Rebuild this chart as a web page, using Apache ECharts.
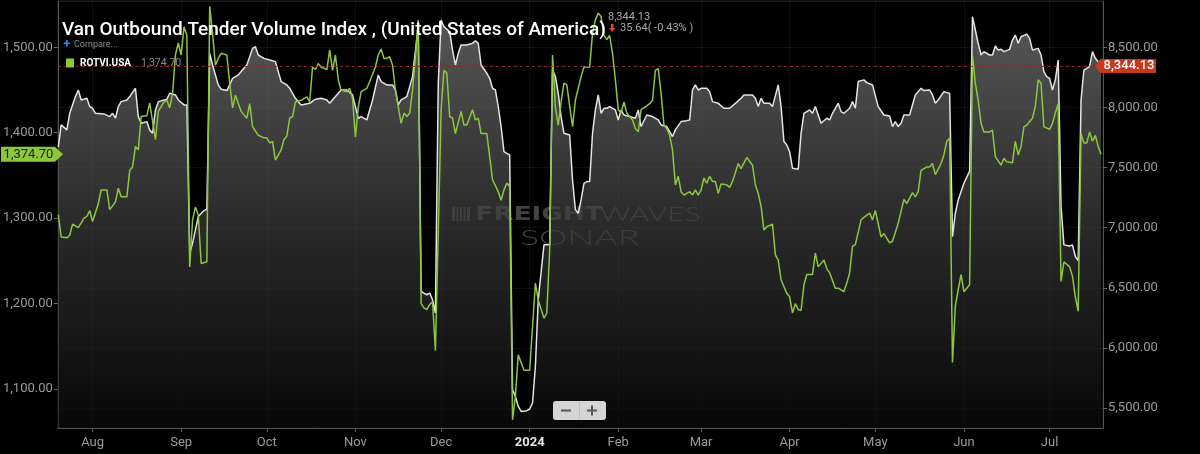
<!DOCTYPE html>
<html><head><meta charset="utf-8">
<script src="https://cdn.jsdelivr.net/npm/echarts@6/dist/echarts.min.js"></script>
<style>html,body{margin:0;padding:0;background:#000;}#c{width:1200px;height:454px;}</style>
</head><body><div id="c"></div>
<script>
// Day 0 = 20 Jul 2023
const START = [2023, 6, 20];
const monthNames = ['Jan','Feb','Mar','Apr','May','Jun','Jul','Aug','Sep','Oct','Nov','Dec'];

// Van Outbound Tender Volume Index (right axis)
const vanDays = [0,1,3,4,6,7,8,10,11,12,13,16,18,19,20,21,22,24,25,27,28,29,31,32,33,34,35,38,39,41,42,44,45,46,47,48,49,51,52,53,54,55,56,57,59,60,61,63,64,66,68,69,70,72,74,76,77,78,80,81,83,84,85,88,90,92,94,95,97,99,101,103,104,105,106,108,110,112,113,115,117,118,119,120,122,124,126,127,128,129,130,131,132,133,134,135,137,138,139,140,141,143,145,146,147,148,150,151,152,153,154,155,156,157,158,159,160,161,162,164,165,166,167,168,170,172,173,174,175,176,177,179,180,181,182,183,184,185,186,187,188,189,190,191,192,193,195,196,197,198,200,202,203,204,206,208,210,211,213,215,216,218,220,221,222,223,224,225,227,228,229,231,233,235,237,239,240,243,244,245,246,247,249,250,252,253,254,255,256,257,259,260,261,263,264,265,266,267,269,270,271,273,274,275,277,278,279,280,282,283,285,287,289,291,292,293,294,295,296,298,300,302,303,305,306,307,308,310,311,312,313,314,315,317,319,320,321,322,323,324,326,327,328,329,330,331,333,334,335,336,337,339,340,341,343,344,345,346,347,348,349,350,351,352,354,355,356,357,358,359,361,362,363,364,365];
const vanValues = [7670,7855,7813,7951,8090,8145,8062,8076,8007,7993,7951,7946,7924,7951,7910,8007,8048,8062,8090,8159,7924,7868,7882,7813,7785,7979,8048,8068,8118,8104,8062,8021,8021,6788,6871,6982,7093,7142,7153,8450,8353,8270,8187,8151,8140,8187,8242,8270,8298,8353,8491,8505,8436,8408,8394,8381,8298,8215,8187,8159,8076,8048,8021,8034,8068,8076,8062,8034,8090,8145,8145,8104,8007,7910,7924,7896,8062,8270,8215,8187,8187,8145,8021,8062,8090,8256,8680,6469,6456,6442,6456,6400,6290,8200,8727,8671,8630,8477,8353,8450,8519,8519,8533,8555,8533,8353,8284,8242,8159,8145,8007,7841,7632,7618,7605,5652,5597,5514,5472,5478,5492,5542,5847,6400,6857,6857,8311,8256,8118,7924,7785,7771,7397,7150,7120,7231,7369,7383,7383,7785,7979,8104,7951,7993,7993,8007,7979,7896,7979,7937,7924,7910,7979,7841,7937,7924,7896,7854,7841,7758,7813,7882,7890,7896,8145,8187,8145,8159,8159,8131,8048,8034,7993,7993,8034,8076,8104,8104,8076,8007,8076,8034,8034,8007,8187,8007,7716,7688,7632,7494,7486,7785,7951,7979,7951,8007,7937,7868,7910,7896,7951,8034,7965,7951,7993,8048,7993,8215,8229,8206,8187,8007,7937,7929,7841,7882,7841,7868,7937,7937,8104,8159,8140,8145,8104,8034,8062,8131,8123,8118,6926,7120,7231,7369,7470,8754,8644,8533,8436,8464,8436,8436,8511,8477,8483,8464,8483,8560,8602,8533,8588,8610,8574,8477,8491,8436,8298,8256,8242,8145,8229,8394,7175,6857,6848,6857,6760,6727,8062,8311,8339,8464,8408,8380,8344.13];

// ROTVI.USA (left axis)
const rotviDays = [0,1,3,4,5,7,9,10,11,12,14,15,17,18,20,21,22,24,25,26,27,28,29,31,32,34,35,37,38,39,40,41,42,43,44,45,46,47,48,49,50,52,53,54,55,56,57,59,60,61,62,64,66,67,68,70,72,73,74,75,76,78,79,80,81,82,83,85,87,88,89,90,91,92,94,95,96,97,98,99,101,102,103,104,105,106,108,109,111,112,113,114,115,116,117,118,120,121,122,123,124,125,126,127,128,129,130,131,132,133,134,135,136,137,138,139,141,142,143,145,146,147,148,150,151,152,154,155,156,157,158,159,160,161,163,165,167,168,170,171,172,173,174,175,176,177,178,180,181,183,184,186,187,188,189,190,191,192,193,194,195,196,197,198,199,201,202,203,204,205,207,208,209,210,211,212,213,214,215,216,217,218,219,221,222,223,224,225,226,227,228,229,230,231,232,234,235,236,238,239,241,243,244,245,246,247,248,250,251,252,253,255,256,257,258,259,260,261,262,264,265,266,268,269,270,272,273,275,276,277,278,279,281,282,284,285,286,288,289,291,292,294,295,296,297,299,300,301,302,304,305,306,307,309,310,311,312,313,314,315,316,317,319,320,321,322,323,324,326,327,328,330,331,332,334,335,336,337,338,339,341,342,343,344,345,347,348,349,350,351,352,354,355,356,357,358,359,360,361,362,363,364,365];
const rotviValues = [1304,1278,1277,1280,1293,1289,1300,1302,1309,1296,1317,1333,1333,1310,1319,1335,1325,1325,1356,1360,1384,1380,1419,1420,1435,1392,1425,1436,1438,1429,1446,1491,1505,1491,1524,1514,1243,1298,1313,1304,1247,1249,1548,1516,1479,1487,1493,1491,1458,1429,1444,1425,1417,1434,1407,1397,1394,1394,1388,1390,1368,1380,1392,1396,1417,1419,1436,1438,1442,1436,1477,1474,1481,1477,1474,1497,1473,1491,1462,1450,1448,1452,1440,1395,1430,1448,1452,1460,1477,1491,1498,1487,1487,1489,1479,1450,1411,1423,1419,1423,1450,1489,1532,1200,1195,1193,1199,1202,1145,1282,1427,1473,1470,1419,1417,1399,1425,1409,1409,1427,1415,1417,1399,1399,1372,1345,1331,1321,1333,1341,1337,1064,1091,1140,1122,1122,1224,1204,1183,1189,1263,1491,1430,1409,1436,1458,1456,1407,1438,1466,1477,1477,1516,1532,1540,1536,1514,1509,1514,1493,1462,1427,1423,1436,1423,1415,1405,1401,1427,1429,1434,1438,1473,1475,1446,1409,1405,1397,1380,1339,1349,1331,1327,1331,1327,1333,1327,1333,1347,1341,1349,1343,1343,1329,1340,1339,1336,1343,1364,1358,1371,1362,1339,1329,1314,1286,1290,1293,1257,1251,1228,1212,1208,1189,1200,1193,1192,1222,1234,1234,1259,1243,1251,1241,1236,1218,1218,1214,1224,1236,1267,1269,1298,1301,1306,1298,1309,1278,1282,1271,1273,1294,1308,1322,1317,1330,1325,1331,1356,1360,1360,1364,1351,1364,1374,1390,1394,1131,1197,1216,1234,1214,1222,1491,1458,1438,1411,1401,1401,1403,1372,1362,1370,1366,1365,1390,1374,1384,1407,1409,1417,1431,1462,1458,1407,1404,1411,1423,1434,1226,1249,1243,1232,1208,1191,1399,1388,1388,1401,1390,1397,1384,1374.70];

const vanLast = 8344.13;
const rotviLast = 1374.70;
const titleText = 'Van Outbound Tender Volume Index , (United States of America)';
const changeText = '35.64( -0.43% )';

const FONT = 'Roboto, "Noto Sans", sans-serif';
function dayToTime(d) { return new Date(START[0], START[1], START[2] + d).getTime(); }
const vanData = vanDays.map((d, i) => [dayToTime(d), vanValues[i]]);
const rotviData = rotviDays.map((d, i) => [dayToTime(d), rotviValues[i]]);
const fmt = v => Number(v).toLocaleString('en-US', {minimumFractionDigits: 2, maximumFractionDigits: 2});

const axisMin = new Date(START[0], START[1], START[2] - 1, 20).getTime();
const axisMax = new Date(START[0], START[1], START[2] + 365, 16, 30).getTime();

const chart = echarts.init(document.getElementById('c'));
const option = {
  backgroundColor: '#000',
  animation: false,
  grid: {left: 57, right: 97, top: 1, bottom: 26, show: true, borderColor: '#1c1c1c', borderWidth: 1},
  xAxis: {
    type: 'time', min: axisMin, max: axisMax, splitNumber: 12,
    minInterval: 28 * 864e5, maxInterval: 31 * 864e5,
    axisLine: {show: true, lineStyle: {color: '#555'}},
    axisTick: {show: true, length: 4, lineStyle: {color: '#555'}},
    splitLine: {show: true, lineStyle: {color: 'rgba(255,255,255,0.06)'}},
    axisLabel: {
      showMinLabel: false, showMaxLabel: false, color: '#9a9a9a', fontSize: 13, fontFamily: FONT, margin: 8,
      formatter: function (v) {
        const d = new Date(v);
        return d.getMonth() === 0 ? '{y|' + d.getFullYear() + '}' : monthNames[d.getMonth()];
      },
      rich: {y: {fontWeight: 'bold', color: '#e6e6e6', fontSize: 13, fontFamily: FONT}}
    }
  },
  yAxis: [
    {
      type: 'value', position: 'left', min: 1054.4, max: 1554.2, splitNumber: 5,
      axisLine: {show: true, lineStyle: {color: '#555'}},
      axisTick: {show: true, length: 4, lineStyle: {color: '#666'}},
      splitLine: {show: false},
      axisLabel: {showMinLabel: false, showMaxLabel: false, color: '#9a9a9a', fontSize: 13, fontFamily: FONT, margin: 5, formatter: fmt}
    },
    {
      type: 'value', position: 'right', min: 5334, max: 8885, splitNumber: 7,
      axisLine: {show: true, lineStyle: {color: '#555'}},
      axisTick: {show: true, length: 4, lineStyle: {color: '#666'}},
      splitLine: {show: true, lineStyle: {color: 'rgba(255,255,255,0.06)'}},
      axisLabel: {showMinLabel: false, showMaxLabel: false, color: '#9a9a9a', fontSize: 13, fontFamily: FONT, margin: 5, formatter: fmt}
    }
  ],
  series: [
    {
      type: 'line', name: 'Van Outbound Tender Volume Index', yAxisIndex: 1, data: vanData,
      showSymbol: false, symbol: 'none',
      lineStyle: {color: '#e4e4e4', width: 1.5},
      areaStyle: {color: new echarts.graphic.LinearGradient(0, 0, 0, 1, [
        {offset: 0, color: '#7c7c7c'}, {offset: 0.5, color: '#3c3c3c'}, {offset: 1, color: '#0b0b0b'}])},
      markLine: {
        symbol: 'none', silent: true, label: {show: false},
        lineStyle: {color: '#8e2a1c', type: [3, 3], width: 1},
        data: [{yAxis: vanLast}]
      },
      z: 2
    },
    {
      type: 'line', name: 'ROTVI.USA', yAxisIndex: 0, data: rotviData,
      showSymbol: false, symbol: 'none',
      lineStyle: {color: '#8dc63f', width: 1.5},
      z: 3
    }
  ]
};
chart.setOption(option);

const yVan = chart.convertToPixel({yAxisIndex: 1}, vanLast);
const yRot = chart.convertToPixel({yAxisIndex: 0}, rotviLast);
const W = 'rgba(120,120,120,0.55)';
const T = (o) => Object.assign({align: 'left', verticalAlign: 'middle', textAlign: 'left', textVerticalAlign: 'middle'}, o);

const graphics = [
  // title block
  {type: 'text', x: 62, y: 30, z: 100, style: T({text: titleText, fill: '#ffffff', font: '500 19px ' + FONT})},
  {type: 'text', x: 63.5, y: 45, z: 100, style: T({text: '+', fill: '#3a8ee6', font: 'bold 12px ' + FONT})},
  {type: 'text', x: 74, y: 45, z: 100, style: T({text: 'Compare...', fill: '#8a8a8a', font: '9px ' + FONT})},
  {type: 'rect', z: 100, shape: {x: 66, y: 58.5, width: 8, height: 9}, style: {fill: '#8dc63f'}},
  {type: 'text', x: 80, y: 63.5, z: 100, style: T({text: 'ROTVI.USA', fill: '#ffffff', font: 'bold 10px ' + FONT})},
  {type: 'text', x: 141, y: 63.5, z: 100, style: T({text: fmt(rotviLast), fill: '#8a8a8a', font: '10.5px ' + FONT})},
  // last value header
  {type: 'text', x: 608, y: 17, z: 100, style: T({text: fmt(vanLast), fill: '#a8a8a8', font: '11px ' + FONT})},
  {type: 'polygon', z: 100, shape: {points: [[611, 24], [613.5, 24], [613.5, 28], [615.5, 28], [612.25, 32], [609, 28], [611, 28]]}, style: {fill: '#e0412f'}},
  {type: 'text', x: 620, y: 28, z: 100, style: T({text: changeText, fill: '#a8a8a8', font: '11px ' + FONT})},
  // watermark
  {type: 'group', z: 1, silent: true, children: [
    {type: 'rect', shape: {x: 452, y: 207, width: 3, height: 14}, style: {fill: W}},
    {type: 'rect', shape: {x: 456.5, y: 207, width: 2, height: 14}, style: {fill: W}},
    {type: 'rect', shape: {x: 460, y: 207, width: 2, height: 14}, style: {fill: W}},
    {type: 'rect', shape: {x: 463.5, y: 207, width: 2, height: 14}, style: {fill: W}},
    {type: 'rect', shape: {x: 467, y: 207, width: 3, height: 14}, style: {fill: W}},
    {type: 'text', x: 475.5, y: 215, scaleX: 1.38, style: T({text: 'FREIGHT', fill: W, font: 'bold 19px "DejaVu Sans"'})},
    {type: 'text', x: 600, y: 215, scaleX: 1.54, style: T({text: 'WAVES', fill: W, font: '300 19.5px Lato'})},
    {type: 'text', x: 520, y: 238.5, scaleX: 1.7, style: T({text: 'SONAR', fill: W, font: '300 21px Lato'})}
  ]},
  // zoom buttons
  {type: 'rect', z: 100, shape: {x: 553, y: 401, width: 53, height: 19, r: 3}, style: {fill: '#d5d5d5'}},
  {type: 'line', z: 101, shape: {x1: 579.5, y1: 402, x2: 579.5, y2: 419}, style: {stroke: '#bdbdbd', lineWidth: 1}},
  {type: 'rect', z: 101, shape: {x: 561, y: 409.5, width: 10, height: 2}, style: {fill: '#555'}},
  {type: 'rect', z: 101, shape: {x: 587, y: 409.5, width: 10, height: 2}, style: {fill: '#555'}},
  {type: 'rect', z: 101, shape: {x: 591, y: 405.5, width: 2, height: 10}, style: {fill: '#555'}},
  // right tag (van last value)
  {type: 'polygon', z: 100, shape: {points: [[1095, yVan], [1100, yVan - 7], [1156, yVan - 7], [1156, yVan + 7], [1100, yVan + 7]]}, style: {fill: '#c7391c'}},
  {type: 'text', x: 1129, y: yVan, z: 101, style: T({text: fmt(vanLast), fill: '#ffffff', font: '500 13px ' + FONT, align: 'center', textAlign: 'center'})},
  // left tag (rotvi last value)
  {type: 'polygon', z: 100, shape: {points: [[1, yRot - 7.5], [55, yRot - 7.5], [63, yRot], [55, yRot + 7.5], [1, yRot + 7.5]]}, style: {fill: '#8dc63f'}},
  {type: 'text', x: 28.5, y: yRot, z: 101, style: T({text: fmt(rotviLast), fill: '#1b2410', font: '13px ' + FONT, align: 'center', textAlign: 'center'})}
];
chart.setOption({graphic: graphics});
</script>
</body></html>
